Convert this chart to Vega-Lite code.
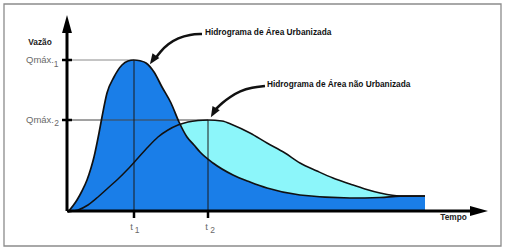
{
  "$schema": "https://vega.github.io/schema/vega-lite/v6.json",
  "width": 509,
  "height": 252,
  "autosize": {"type": "fit", "contains": "padding"},
  "padding": 0,
  "background": "white",
  "config": {"view": {"stroke": null}},
  "datasets": {
    "urb": [
      {"t": 0, "Q": 0}, {"t": 0.9, "Q": 1.2}, {"t": 1.4, "Q": 2.1}, {"t": 1.9, "Q": 3.2},
      {"t": 2.3, "Q": 4.4}, {"t": 2.6, "Q": 5.5}, {"t": 3.1, "Q": 7.9}, {"t": 3.4, "Q": 9.5},
      {"t": 3.9, "Q": 11.9}, {"t": 4.6, "Q": 13.5}, {"t": 5.4, "Q": 14.7}, {"t": 6.0, "Q": 15.1},
      {"t": 6.6, "Q": 15.2}, {"t": 7.2, "Q": 15.12}, {"t": 7.8, "Q": 14.9}, {"t": 8.6, "Q": 14.0},
      {"t": 9.4, "Q": 12.5}, {"t": 10.3, "Q": 10.9}, {"t": 11.1, "Q": 9.0}, {"t": 11.9, "Q": 7.5},
      {"t": 12.6, "Q": 6.7}, {"t": 13.2, "Q": 6.0}, {"t": 14.5, "Q": 4.9}, {"t": 16.5, "Q": 3.7},
      {"t": 18.2, "Q": 3.0}, {"t": 19.9, "Q": 2.4}, {"t": 23.2, "Q": 1.7}, {"t": 28.2, "Q": 1.4},
      {"t": 31.2, "Q": 1.45}, {"t": 33.2, "Q": 1.58}, {"t": 35.7, "Q": 1.6}
    ],
    "natural": [
      {"t": 0, "Q": 0}, {"t": 1, "Q": 0.2}, {"t": 2, "Q": 0.7}, {"t": 3, "Q": 1.5},
      {"t": 4, "Q": 2.4}, {"t": 5, "Q": 3.3}, {"t": 6, "Q": 4.3}, {"t": 7, "Q": 5.4},
      {"t": 8, "Q": 6.5}, {"t": 9, "Q": 7.5}, {"t": 10, "Q": 8.2}, {"t": 11, "Q": 8.7},
      {"t": 12, "Q": 9.0}, {"t": 13, "Q": 9.15}, {"t": 14.0, "Q": 9.2},
      {"t": 15.4, "Q": 9.1}, {"t": 16.5, "Q": 8.7}, {"t": 18.2, "Q": 7.9}, {"t": 19.9, "Q": 6.9},
      {"t": 21.7, "Q": 5.9}, {"t": 23.2, "Q": 4.9}, {"t": 24.9, "Q": 4.1}, {"t": 26.5, "Q": 3.4},
      {"t": 28.2, "Q": 2.8}, {"t": 29.7, "Q": 2.3}, {"t": 31.2, "Q": 1.9}, {"t": 33.2, "Q": 1.6},
      {"t": 35.7, "Q": 1.6}
    ],
    "arrow1": [
      {"i": 0, "t": 13.4, "Q": 17.8}, {"i": 1, "t": 12.2, "Q": 17.75}, {"i": 2, "t": 11.0, "Q": 17.4},
      {"i": 3, "t": 10.0, "Q": 16.8}, {"i": 4, "t": 9.2, "Q": 16.0}, {"i": 5, "t": 8.7, "Q": 15.3}
    ],
    "arrow2": [
      {"i": 0, "t": 19.7, "Q": 12.6}, {"i": 1, "t": 18.4, "Q": 12.45}, {"i": 2, "t": 17.2, "Q": 12.1},
      {"i": 3, "t": 16.2, "Q": 11.5}, {"i": 4, "t": 15.4, "Q": 10.9}, {"i": 5, "t": 14.8, "Q": 10.3}
    ]
  },
  "encoding": {
    "x": {"field": "t", "type": "quantitative", "scale": {"domain": [-6.8, 44.1], "nice": false, "zero": false}, "axis": null},
    "y": {"field": "Q", "type": "quantitative", "scale": {"domain": [-4, 21.2], "nice": false, "zero": false}, "axis": null}
  },
  "layer": [
    {
      "data": {"values": [{"t": -6.4, "t2": 43.3, "Q": 20.8, "Q2": -3.4}]},
      "mark": {"type": "rect", "fill": null, "stroke": "#8c8c8c", "strokeWidth": 1.3},
      "encoding": {"x2": {"field": "t2"}, "y2": {"field": "Q2"}}
    },
    {
      "data": {"name": "natural"},
      "mark": {"type": "area", "color": "#8cf6fa", "interpolate": "monotone"},
      "encoding": {"y2": {"datum": 0}}
    },
    {
      "data": {"name": "urb"},
      "mark": {"type": "area", "color": "#1a7ee8", "interpolate": "monotone"},
      "encoding": {"y2": {"datum": 0}}
    },
    {
      "data": {"values": [{"t": -0.1, "t2": 6.6, "Q": 15.2, "Q2": 15.2}]},
      "mark": {"type": "rule", "color": "#8a8a8a", "strokeWidth": 1},
      "encoding": {"x2": {"field": "t2"}, "y2": {"field": "Q2"}}
    },
    {
      "data": {"values": [{"t": -0.1, "t2": 14.0, "Q": 9.2, "Q2": 9.2}]},
      "mark": {"type": "rule", "color": "#444444", "strokeWidth": 1},
      "encoding": {"x2": {"field": "t2"}, "y2": {"field": "Q2"}}
    },
    {
      "data": {"values": [{"t": 6.6, "t2": 6.6, "Q": 0, "Q2": 15.2}, {"t": 14.0, "t2": 14.0, "Q": 0, "Q2": 9.2}]},
      "mark": {"type": "rule", "color": "#1a1a1a", "strokeWidth": 1},
      "encoding": {"x2": {"field": "t2"}, "y2": {"field": "Q2"}}
    },
    {
      "data": {"name": "natural"},
      "mark": {"type": "line", "color": "#111111", "strokeWidth": 1.5, "interpolate": "monotone"},
      "encoding": {}
    },
    {
      "data": {"name": "urb"},
      "mark": {"type": "line", "color": "#111111", "strokeWidth": 1.7, "interpolate": "monotone"},
      "encoding": {}
    },
    {
      "data": {"values": [{"t": -0.1, "t2": -0.1, "Q": 0.1, "Q2": 18.0}, {"t": -0.1, "t2": 40.2, "Q": 0.1, "Q2": 0.1}]},
      "mark": {"type": "rule", "color": "#000000", "strokeWidth": 3},
      "encoding": {"x2": {"field": "t2"}, "y2": {"field": "Q2"}}
    },
    {
      "data": {"values": [{"t": -0.6, "t2": 0.4, "Q": 15.2, "Q2": 15.2}, {"t": -0.6, "t2": 0.4, "Q": 9.2, "Q2": 9.2}, {"t": 6.6, "t2": 6.6, "Q": 0.1, "Q2": -0.6}, {"t": 14.0, "t2": 14.0, "Q": 0.1, "Q2": -0.6}]},
      "mark": {"type": "rule", "color": "#000000", "strokeWidth": 2.5},
      "encoding": {"x2": {"field": "t2"}, "y2": {"field": "Q2"}}
    },
    {
      "data": {"values": [{"t": -0.1, "Q": 18.8}]},
      "mark": {"type": "point", "filled": true, "color": "#000000", "opacity": 1, "shape": "M0,-1L-0.55,1L0.55,1Z", "size": 324, "angle": 0},
      "encoding": {}
    },
    {
      "data": {"values": [{"t": 41.1, "Q": 0.1}]},
      "mark": {"type": "point", "filled": true, "color": "#000000", "opacity": 1, "shape": "M0,-1L-0.55,1L0.55,1Z", "size": 324, "angle": 90},
      "encoding": {}
    },
    {
      "data": {"name": "arrow1"},
      "mark": {"type": "line", "color": "#111111", "strokeWidth": 2.5, "interpolate": "basis"},
      "encoding": {"order": {"field": "i"}}
    },
    {
      "data": {"name": "arrow2"},
      "mark": {"type": "line", "color": "#111111", "strokeWidth": 2.5, "interpolate": "basis"},
      "encoding": {"order": {"field": "i"}}
    },
    {
      "data": {"values": [{"t": 8.49, "Q": 15.21}]},
      "mark": {"type": "point", "filled": true, "color": "#111111", "opacity": 1, "shape": "M0,-1L-0.8,1L0.8,1Z", "size": 110, "angle": 215},
      "encoding": {}
    },
    {
      "data": {"values": [{"t": 14.55, "Q": 9.94}]},
      "mark": {"type": "point", "filled": true, "color": "#111111", "opacity": 1, "shape": "M0,-1L-0.8,1L0.8,1Z", "size": 110, "angle": 210},
      "encoding": {}
    },
    {
      "data": {"values": [{"t": 13.7, "Q": 17.9, "label": "Hidrograma de Área Urbanizada"}, {"t": 19.9, "Q": 12.7, "label": "Hidrograma de Área não Urbanizada"}]},
      "mark": {"type": "text", "font": "Liberation Sans", "fontWeight": "bold", "fontSize": 8.3, "align": "left", "baseline": "middle", "color": "#111111"},
      "encoding": {"text": {"field": "label"}}
    },
    {
      "data": {"values": [{"t": -2.8, "Q": 16.9, "label": "Vazão"}, {"t": 38.55, "Q": -0.55, "label": "Tempo"}]},
      "mark": {"type": "text", "font": "Liberation Sans", "fontWeight": "bold", "fontSize": 8.3, "align": "center", "baseline": "middle", "color": "#222222"},
      "encoding": {"text": {"field": "label"}}
    },
    {
      "data": {"values": [{"t": -1.4, "Q": 15.2, "label": "Qmáx."}, {"t": -1.4, "Q": 9.2, "label": "Qmáx."}]},
      "mark": {"type": "text", "font": "Liberation Sans", "fontSize": 9.5, "align": "right", "baseline": "middle", "color": "#6a6a6a"},
      "encoding": {"text": {"field": "label"}}
    },
    {
      "data": {"values": [{"t": 6.35, "Q": -1.5, "label": "t"}, {"t": 13.85, "Q": -1.5, "label": "t"}]},
      "mark": {"type": "text", "font": "Liberation Sans", "fontSize": 9.5, "align": "center", "baseline": "middle", "color": "#6a6a6a"},
      "encoding": {"text": {"field": "label"}}
    },
    {
      "data": {"values": [{"t": -1.2, "Q": 14.8, "label": "1"}, {"t": -1.15, "Q": 8.95, "label": "2"}, {"t": 6.9, "Q": -1.8, "label": "1"}, {"t": 14.45, "Q": -1.8, "label": "2"}]},
      "mark": {"type": "text", "font": "Liberation Sans", "fontSize": 8.5, "align": "center", "baseline": "middle", "color": "#6a6a6a"},
      "encoding": {"text": {"field": "label"}}
    }
  ]
}
